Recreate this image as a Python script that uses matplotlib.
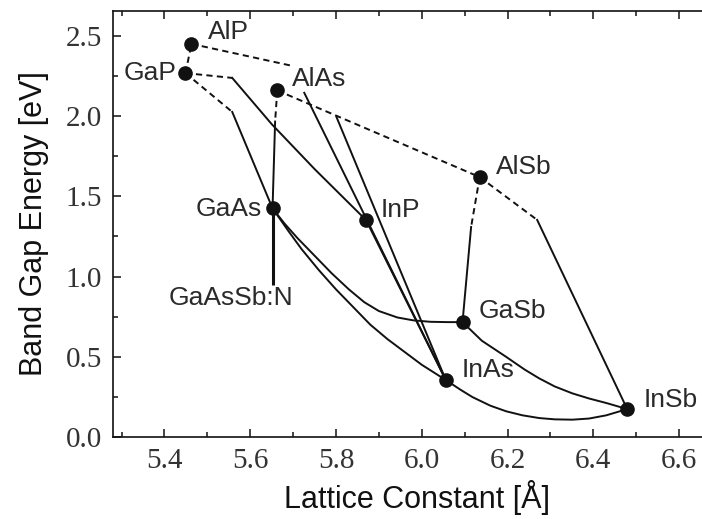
import matplotlib

matplotlib.use("Agg")
import matplotlib.pyplot as plt
from matplotlib.ticker import MultipleLocator

# CONFIG ===============================================================================================================

FIG_W, FIG_H, DPI = 7.02, 5.19, 100
SANS = ["Liberation Sans", "DejaVu Sans"]
SERIF = ["Liberation Serif", "DejaVu Serif"]
INK = "#111111"
LABEL_INK = "#2a2a2a"
LW = 1.4
DASH = (0, (3.2, 2.2))

# DATA =================================================================================================================

BINARY_NAMES = ["AlP", "GaP", "AlAs", "GaAs", "InP", "AlSb", "GaSb", "InAs", "InSb"]
BINARY_LATTICE = [5.463, 5.449, 5.663, 5.652, 5.870, 6.135, 6.095, 6.056, 6.479]
BINARY_GAP = [2.45, 2.268, 2.16, 1.425, 1.352, 1.62, 0.716, 0.355, 0.174]

# indirect (dashed) parts of the alloy lines
GAP_ALP_A, GAP_ALP_E = [5.449, 5.463], [2.268, 2.45]
ALP_X_A, ALP_X_E = [5.463, 5.698], [2.45, 2.313]
GAP_INP_IND_A, GAP_INP_IND_E = [5.449, 5.558], [2.268, 2.238]
GAP_GAAS_IND_A, GAP_GAAS_IND_E = [5.449, 5.558], [2.268, 2.026]
ALAS_GAAS_IND_A, ALAS_GAAS_IND_E = [5.663, 5.658], [2.16, 1.966]
ALAS_ALSB_A, ALAS_ALSB_E = [5.663, 6.135], [2.16, 1.62]
ALSB_GASB_IND_A, ALSB_GASB_IND_E = [6.135, 6.115], [1.62, 1.309]
ALSB_INSB_IND_A, ALSB_INSB_IND_E = [6.135, 6.269], [1.62, 1.353]

# direct (solid) parts
GAP_INP_A, GAP_INP_E = [5.558, 5.65, 5.75, 5.870], [2.238, 1.95, 1.67, 1.352]
GAP_GAAS_A, GAP_GAAS_E = [5.558, 5.652], [2.026, 1.425]
ALAS_GAAS_A, ALAS_GAAS_E = [5.658, 5.652], [1.966, 1.425]
ALP_INAS_A, ALP_INAS_E = [5.726, 6.056], [2.145, 0.355]
ALAS_INAS_A, ALAS_INAS_E = [5.801, 6.056], [1.995, 0.355]
INP_INAS_A, INP_INAS_E = [5.870, 6.056], [1.352, 0.355]
ALSB_GASB_A, ALSB_GASB_E = [6.115, 6.095], [1.309, 0.716]
ALSB_INSB_A, ALSB_INSB_E = [6.269, 6.479], [1.353, 0.174]
GAAS_N_A, GAAS_N_E = [5.652, 5.652], [1.425, 0.95]

GAASSB_A = [5.652, 5.68, 5.71, 5.75, 5.79, 5.83, 5.866, 5.90, 5.943, 5.98, 6.02, 6.06, 6.095]
GAASSB_E = [1.425, 1.33, 1.24, 1.13, 1.02, 0.92, 0.84, 0.785, 0.745, 0.727, 0.718, 0.716, 0.716]

GAINAS_A = [5.652, 5.69, 5.72, 5.76, 5.80, 5.84, 5.88, 5.92, 5.96, 6.00, 6.056]
GAINAS_E = [1.425, 1.28, 1.17, 1.04, 0.92, 0.81, 0.70, 0.61, 0.53, 0.45, 0.355]

GASB_INSB_A = [6.095, 6.14, 6.197, 6.24, 6.274, 6.31, 6.351, 6.39, 6.43, 6.479]
GASB_INSB_E = [0.716, 0.60, 0.499, 0.42, 0.365, 0.315, 0.272, 0.24, 0.212, 0.174]

INAS_INSB_A = [6.056, 6.09, 6.118, 6.16, 6.197, 6.235, 6.274, 6.31, 6.351, 6.39, 6.430, 6.479]
INAS_INSB_E = [0.355, 0.295, 0.249, 0.195, 0.160, 0.135, 0.118, 0.110, 0.108, 0.115, 0.135, 0.174]

# label offsets from the marker, in points: (dx, dy, ha)
LABEL_OFFSETS = {
    "AlP": (11.5, 8.5, "left"),
    "GaP": (-6.5, 0.0, "right"),
    "AlAs": (10.8, 8.5, "left"),
    "GaAs": (-8.0, -0.5, "right"),
    "InP": (10.8, 7.5, "left"),
    "AlSb": (11.5, 7.5, "left"),
    "GaSb": (11.5, 8.0, "left"),
    "InAs": (11.5, 7.5, "left"),
    "InSb": (11.5, 6.5, "left"),
}


# PLOTTING =============================================================================================================

def draw_lines(ax):
    dashed = [
        (GAP_ALP_A, GAP_ALP_E), (ALP_X_A, ALP_X_E), (GAP_INP_IND_A, GAP_INP_IND_E),
        (GAP_GAAS_IND_A, GAP_GAAS_IND_E), (ALAS_GAAS_IND_A, ALAS_GAAS_IND_E),
        (ALAS_ALSB_A, ALAS_ALSB_E), (ALSB_GASB_IND_A, ALSB_GASB_IND_E),
        (ALSB_INSB_IND_A, ALSB_INSB_IND_E),
    ]
    solid = [
        (GAP_INP_A, GAP_INP_E), (GAP_GAAS_A, GAP_GAAS_E), (ALAS_GAAS_A, ALAS_GAAS_E),
        (ALP_INAS_A, ALP_INAS_E), (ALAS_INAS_A, ALAS_INAS_E), (INP_INAS_A, INP_INAS_E),
        (ALSB_GASB_A, ALSB_GASB_E), (ALSB_INSB_A, ALSB_INSB_E),
        (GAASSB_A, GAASSB_E), (GAINAS_A, GAINAS_E),
        (GASB_INSB_A, GASB_INSB_E), (INAS_INSB_A, INAS_INSB_E),
    ]
    for a, e in dashed:
        ax.plot(a, e, color=INK, lw=LW, linestyle=DASH, solid_capstyle="butt", zorder=2)
    for a, e in solid:
        ax.plot(a, e, color=INK, lw=LW, solid_joinstyle="round", zorder=2)
    ax.plot(GAAS_N_A, GAAS_N_E, color=INK, lw=2.2, solid_capstyle="butt", zorder=2)


def draw_binaries(ax):
    ax.plot(BINARY_LATTICE, BINARY_GAP, "o", color=INK, ms=9.5, zorder=4, clip_on=False)
    for name, a, e in zip(BINARY_NAMES, BINARY_LATTICE, BINARY_GAP):
        dx, dy, ha = LABEL_OFFSETS[name]
        ax.annotate(name, (a, e), xytext=(dx, dy), textcoords="offset points",
                    ha=ha, va="center", fontsize=19, family=SANS, color=LABEL_INK, zorder=5)
    ax.annotate("GaAsSb:N", (GAAS_N_A[1], GAAS_N_E[1]), xytext=(-30, -10), textcoords="offset points",
                ha="center", va="center", fontsize=19, family=SANS, color=LABEL_INK, zorder=5)


def style_axes(ax):
    ax.set_xlim(5.28, 6.70)
    ax.set_ylim(0.0, 2.655)
    ax.xaxis.set_major_locator(MultipleLocator(0.2))
    ax.xaxis.set_minor_locator(MultipleLocator(0.1))
    ax.yaxis.set_major_locator(MultipleLocator(0.5))
    ax.yaxis.set_minor_locator(MultipleLocator(0.25))
    ax.tick_params(which="both", direction="in", top=True, right=True, width=1.1, color=INK)
    ax.tick_params(which="major", length=6, pad=8)
    ax.tick_params(which="minor", length=3.5)
    for spine in ax.spines.values():
        spine.set_linewidth(1.2)
        spine.set_color(INK)
    ax.xaxis.set_major_formatter(plt.FuncFormatter(lambda v, _: f"{v:.1f}"))
    ax.yaxis.set_major_formatter(plt.FuncFormatter(lambda v, _: f"{v:.1f}"))
    for lab in ax.get_xticklabels() + ax.get_yticklabels():
        lab.set_family(SERIF)
        lab.set_fontsize(21)
        lab.set_color("#333333")
    ax.set_xlabel("Lattice Constant [Å]", fontsize=22, family=SANS, color=INK, labelpad=4)
    ax.set_ylabel("Band Gap Energy [eV]", fontsize=22, family=SANS, color=INK, labelpad=12)


# MAIN =================================================================================================================

def main() -> None:
    fig = plt.figure(figsize=(FIG_W, FIG_H), dpi=DPI)
    # right spine sits just outside the canvas, as in the cropped original
    ax = fig.add_axes([113 / 702, 82 / 519, 609 / 702, 426 / 519])
    draw_lines(ax)
    draw_binaries(ax)
    style_axes(ax)
    fig.savefig("out.png", dpi=DPI)


if __name__ == "__main__":
    main()
